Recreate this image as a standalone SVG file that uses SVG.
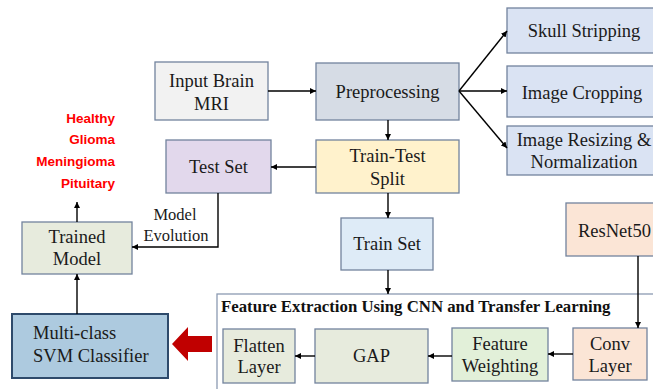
<svg xmlns="http://www.w3.org/2000/svg" width="653" height="389" viewBox="0 0 653 389">
<defs>
<style>
.n{stroke:#72839d;stroke-width:1.3}
.t{font-family:"Liberation Serif","Times New Roman",serif;font-size:18.5px;fill:#1a1a1a;text-anchor:middle}
.lbl{font-family:"Liberation Serif","Times New Roman",serif;font-size:16.5px;fill:#1a1a1a;text-anchor:middle}
.red{font-family:"Liberation Sans",Arial,sans-serif;font-size:13.5px;font-weight:bold;fill:#ff0000;text-anchor:end}
.c{fill:none;stroke:#000;stroke-width:1.4;marker-end:url(#ah)}
</style>
<marker id="ah" viewBox="0 0 10 10" refX="10" refY="5" markerWidth="6" markerHeight="6" markerUnits="userSpaceOnUse" orient="auto">
<path d="M0,0 L10,5 L0,10 z" fill="#000"/>
</marker>
</defs>
<rect width="653" height="389" fill="#fff"/>

<g id="container">
<rect x="217" y="294" width="460" height="110" fill="#fff" stroke="#8c9ab2" stroke-width="1.3"/>
<text x="221" y="312" style="font-family:'Liberation Serif','Times New Roman',serif;font-size:16.8px;font-weight:bold;fill:#111">Feature Extraction Using CNN and Transfer Learning</text>
</g>

<g id="classes">
<text class="red" x="115" y="123">Healthy</text>
<text class="red" x="115" y="144">Glioma</text>
<text class="red" x="115" y="166">Meningioma</text>
<text class="red" x="115" y="188">Pituitary</text>
</g>

<g id="input">
<rect class="n" x="155" y="62" width="113" height="58" fill="#f2f2f2"/>
<text class="t" x="211.5" y="87">Input Brain</text>
<text class="t" x="211.5" y="110">MRI</text>
</g>
<g id="preprocessing">
<rect class="n" x="316" y="63" width="143" height="57" fill="#d6dce5"/>
<text class="t" x="387.5" y="98">Preprocessing</text>
</g>
<g id="skull">
<rect class="n" x="507" y="8" width="160" height="45" fill="#dae3f3"/>
<text class="t" x="584" y="37">Skull Stripping</text>
</g>
<g id="cropping">
<rect class="n" x="507" y="66" width="160" height="51" fill="#dae3f3"/>
<text class="t" x="582" y="99">Image Cropping</text>
</g>
<g id="resizing">
<rect class="n" x="507" y="126" width="160" height="49" fill="#dae3f3"/>
<text class="t" x="584" y="145.5">Image Resizing &amp;</text>
<text class="t" x="584" y="168">Normalization</text>
</g>
<g id="testset">
<rect class="n" x="166" y="140" width="105" height="53" fill="#e2d8ec"/>
<text class="t" x="218.5" y="173">Test Set</text>
</g>
<g id="split">
<rect class="n" x="316" y="140" width="143" height="53" fill="#fff2cc"/>
<text class="t" x="387.5" y="162">Train-Test</text>
<text class="t" x="387.5" y="185">Split</text>
</g>
<g id="trainset">
<rect class="n" x="341" y="218" width="92" height="52" fill="#deebf7"/>
<text class="t" x="387" y="250">Train Set</text>
</g>
<g id="resnet">
<rect class="n" x="566" y="203" width="100" height="53" fill="#fbe5d6"/>
<text class="t" x="578" y="237" style="text-anchor:start">ResNet50</text>
</g>
<g id="trained">
<rect class="n" x="22" y="222" width="110" height="52" fill="#e7ebdd"/>
<text class="t" x="77" y="243">Trained</text>
<text class="t" x="77" y="265">Model</text>
</g>
<g id="svm">
<rect x="12" y="314" width="156" height="64" fill="#adcadf" stroke="#2e4a6b" stroke-width="2"/>
<text class="t" x="33" y="339" style="text-anchor:start">Multi-class</text>
<text class="t" x="33" y="362" style="text-anchor:start">SVM Classifier</text>
</g>
<g id="flatten">
<rect class="n" x="223" y="329" width="72" height="54" fill="#e7ebdd"/>
<text class="t" x="259" y="352">Flatten</text>
<text class="t" x="259" y="373">Layer</text>
</g>
<g id="gap">
<rect class="n" x="315" y="329" width="113" height="54" fill="#e7ebdd"/>
<text class="t" x="371.5" y="362">GAP</text>
</g>
<g id="weighting">
<rect class="n" x="452" y="328" width="96" height="53" fill="#e2f0d9"/>
<text class="t" x="500" y="350">Feature</text>
<text class="t" x="500" y="372">Weighting</text>
</g>
<g id="conv">
<rect class="n" x="573" y="328" width="74" height="52" fill="#fbe5d6"/>
<text class="t" x="610" y="350">Conv</text>
<text class="t" x="610" y="372">Layer</text>
</g>

<g id="connectors">
<path class="c" d="M268,91 L316,91"/>
<path class="c" d="M459,91 L507,31"/>
<path class="c" d="M459,91 L507,91"/>
<path class="c" d="M459,91 L507,148"/>
<path class="c" d="M388,120 L388,140"/>
<path class="c" d="M316,167 L271,167"/>
<path class="c" d="M388,193 L388,218"/>
<path class="c" d="M388,270 L388,294"/>
<path class="c" d="M218,193 L218,247 L132,247"/>
<path class="c" d="M77,222 L77,202"/>
<path class="c" d="M77,314 L77,274"/>
<path class="c" d="M638,256 L638,328"/>
<path class="c" d="M573,354 L548,354"/>
<path class="c" d="M452,356 L428,356"/>
<path class="c" d="M315,356 L295,356"/>
<polygon points="172,344 188,327 188,336 212,336 212,352 188,352 188,361" fill="#c00000"/>
</g>
<g id="label">
<text class="lbl" x="175" y="220">Model</text>
<text class="lbl" x="176" y="240.5">Evolution</text>
</g>
</svg>
